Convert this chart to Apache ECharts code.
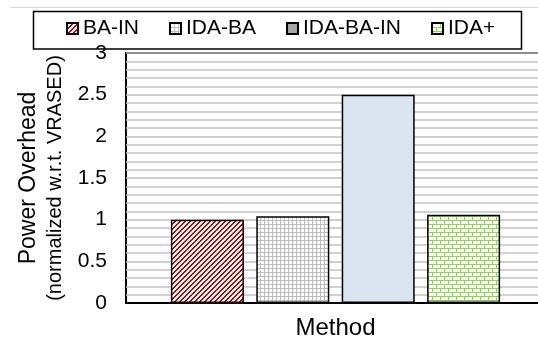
<!DOCTYPE html>
<html>
<head>
<meta charset="utf-8">
<script src="https://cdn.jsdelivr.net/npm/echarts@6/dist/echarts.min.js"></script>
<style>
  html, body { margin: 0; padding: 0; background: #fff; }
  #chart { width: 538px; height: 343px; }
</style>
</head>
<body>
<div id="chart"></div>
<script>
const methods = ['BA-IN', 'IDA-BA', 'IDA-BA-IN', 'IDA+'];
const overhead = [1.0, 1.04, 2.5, 1.06];
const yTicks = { min: 0, max: 3, step: 0.5 };

const FONT = "'Liberation Sans', Arial, sans-serif";

// small repeating tiles for the hatched fills
function tile(size, draw) {
  const c = document.createElement('canvas');
  c.width = size;
  c.height = size;
  const ctx = c.getContext('2d');
  ctx.fillStyle = '#fff';
  ctx.fillRect(0, 0, size, size);
  draw(ctx, size);
  return { image: c, repeat: 'repeat' };
}

const stripes = tile(5, (ctx, n) => {
  ctx.fillStyle = '#c00000';
  for (let x = 0; x < n; x++) {
    for (let y = 0; y < n; y++) {
      if ((x + y) % n < 2) ctx.fillRect(x, y, 1, 1);
    }
  }
});

const grid = tile(4, (ctx, n) => {
  ctx.fillStyle = '#bdbdbd';
  ctx.fillRect(0, 0, n, 1);
  ctx.fillRect(0, 0, 1, n);
});

const bricks = tile(8, (ctx, n) => {
  ctx.fillStyle = '#92cf5c';
  ctx.fillRect(0, 0, n, 1);
  ctx.fillRect(0, 4, n, 1);
  ctx.fillRect(0, 0, 1, 4);
  ctx.fillRect(4, 4, 1, 4);
});

const fills = [stripes, grid, '#dbe5f1', bricks];

const chart = echarts.init(document.getElementById('chart'));

chart.setOption({
  animation: false,
  textStyle: { fontFamily: FONT, color: '#000' },
  graphic: [
    {
      type: 'line',
      shape: { x1: 10, y1: 7.5, x2: 538, y2: 7.5 },
      style: { stroke: '#d9d9d9', lineWidth: 1 }
    },
    {
      type: 'rect',
      shape: { x: 33.5, y: 11.5, width: 488, height: 37.5 },
      style: { fill: 'none', stroke: '#000', lineWidth: 1.5 }
    }
  ],
  legend: {
    left: 66,
    top: 18,
    padding: 0,
    itemWidth: 11,
    itemHeight: 11,
    itemGap: 30,
    icon: 'rect',
    textStyle: { fontSize: 21, fontFamily: FONT, color: '#000' },
    data: methods.map((m, i) =>
      i === 2 ? { name: m, itemStyle: { color: '#a6a6a6' } } : { name: m }
    )
  },
  grid: {
    left: 126,
    right: -7,
    top: 53,
    bottom: 40,
    outerBoundsMode: 'none',
    show: true,
    borderColor: '#000',
    borderWidth: 2
  },
  xAxis: {
    type: 'category',
    data: [''],
    name: 'Method',
    nameLocation: 'middle',
    nameGap: 13,
    nameTextStyle: { fontSize: 24, fontFamily: FONT, color: '#000' },
    axisLine: { show: true, lineStyle: { color: '#000', width: 2 } },
    axisTick: { show: false },
    axisLabel: { show: false }
  },
  yAxis: {
    type: 'value',
    min: yTicks.min,
    max: yTicks.max,
    interval: yTicks.step,
    name: '{a|Power Overhead}\n{b|(normalized w.r.t. VRASED)}',
    nameLocation: 'middle',
    nameGap: 59,
    nameTextStyle: {
      rich: {
        a: { fontSize: 23, fontFamily: FONT, color: '#000', lineHeight: 28 },
        b: { fontSize: 20, fontFamily: FONT, color: '#000', lineHeight: 24 }
      }
    },
    axisLine: { show: false },
    axisTick: { show: false },
    axisLabel: { fontSize: 21, fontFamily: FONT, color: '#000', margin: 19 },
    splitLine: { lineStyle: { color: '#bfbfbf', width: 1.5 } },
    minorSplitLine: { show: true, lineStyle: { color: '#c4c4c4', width: 1.5 } },
    minorTick: { show: false, splitNumber: 5 }
  },
  series: methods.map((m, i) => ({
    name: m,
    type: 'bar',
    data: [overhead[i]],
    barWidth: 73,
    barGap: '17%',
    itemStyle: { color: fills[i], borderColor: '#000', borderWidth: 1.5 }
  }))
});
</script>
</body>
</html>
